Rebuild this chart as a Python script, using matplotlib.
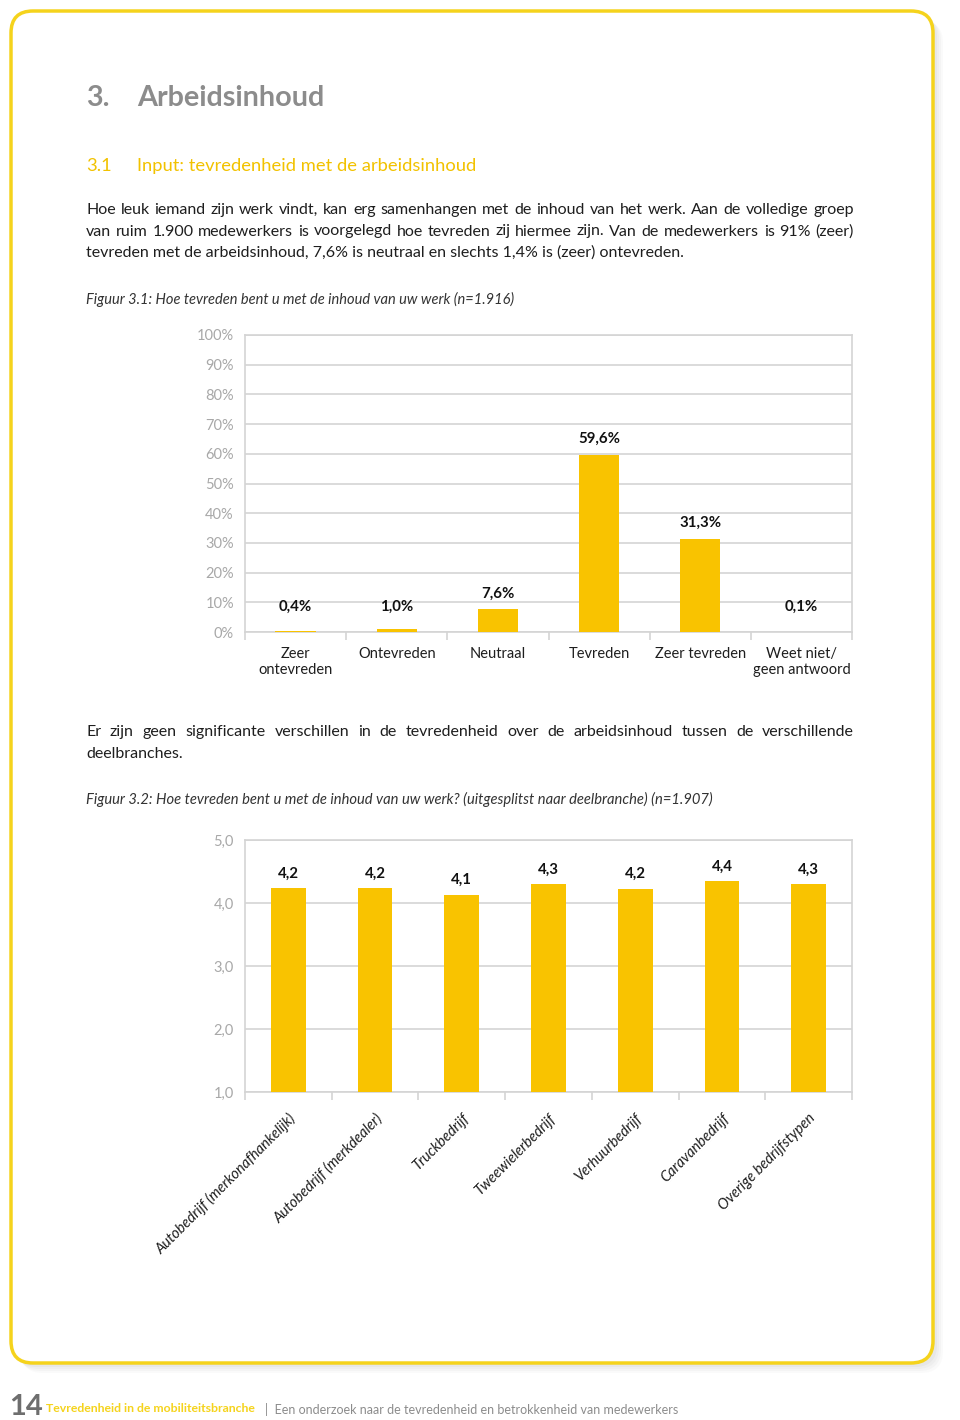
import matplotlib
matplotlib.use("Agg")
import matplotlib.pyplot as plt
from matplotlib.patches import FancyBboxPatch

plt.rcParams['font.family'] = ['Lato', 'DejaVu Sans']

# data figuur 3.1
cat1 = ['Zeer\nontevreden', 'Ontevreden', 'Neutraal', 'Tevreden', 'Zeer tevreden', 'Weet niet/\ngeen antwoord']
val1 = [0.4, 1.0, 7.6, 59.6, 31.3, 0.1]
lab1 = ['0,4%', '1,0%', '7,6%', '59,6%', '31,3%', '0,1%']
ticks1 = [0, 10, 20, 30, 40, 50, 60, 70, 80, 90, 100]

# data figuur 3.2
cat2 = ['Autobedrijf (merkonafhankelijk)', 'Autobedrijf (merkdealer)', 'Truckbedrijf',
        'Tweewielerbedrijf', 'Verhuurbedrijf', 'Caravanbedrijf', 'Overige bedrijfstypen']
val2 = [4.24, 4.24, 4.13, 4.30, 4.23, 4.35, 4.30]
lab2 = ['4,2', '4,2', '4,1', '4,3', '4,2', '4,4', '4,3']
ticks2 = [1, 2, 3, 4, 5]

YEL = '#F9C300'
GRID = '#d4d4d4'
TICK = '#a8a8a8'
TXT = '#1e1e1e'

W, H = 960, 1420
fig = plt.figure(figsize=(W / 100, H / 100), dpi=100)
fig.patch.set_facecolor('white')
renderer = fig.canvas.get_renderer()

# achtergrond in pixels
bg = fig.add_axes([0, 0, 1, 1])
bg.set_xlim(0, W)
bg.set_ylim(H, 0)
bg.axis('off')

for i, a in enumerate([0.06, 0.05, 0.04, 0.03]):
    off = 3 + i * 2
    bg.add_patch(FancyBboxPatch((12 + off, 12 + off), 922, 1352, boxstyle='round,pad=0,rounding_size=22',
                                fc='#777777', ec='none', alpha=a, zorder=1))
bg.add_patch(FancyBboxPatch((11, 11), 922, 1352, boxstyle='round,pad=0,rounding_size=22',
                            fc='white', ec='#F5D31C', lw=2.5, zorder=2))


def line_text(x, y, s, right=None, **kw):
    # als right gegeven is: uitvullen tot die x
    if right is None:
        bg.text(x, y, s, va='center', zorder=3, **kw)
        return
    words = s.split(' ')
    objs = [bg.text(0, y, w, va='center', zorder=3, **kw) for w in words]
    widths = [o.get_window_extent(renderer).width for o in objs]
    gap = (right - x - sum(widths)) / (len(words) - 1)
    pos = x
    for o, w in zip(objs, widths):
        o.set_x(pos)
        pos += w + gap


line_text(86, 98, '3.', fontsize=20.7, fontweight='bold', color='#8c8c8c')
line_text(137, 98, 'Arbeidsinhoud', fontsize=20.7, fontweight='bold', color='#8c8c8c')
line_text(86, 166, '3.1', fontsize=13.2, color='#F2C200')
line_text(137, 166, 'Input: tevredenheid met de arbeidsinhoud', fontsize=13.2, color='#F2C200')

par1 = ['Hoe leuk iemand zijn werk vindt, kan erg samenhangen met de inhoud van het werk. Aan de volledige groep',
        'van ruim 1.900 medewerkers is voorgelegd hoe tevreden zij hiermee zijn. Van de medewerkers is 91% (zeer)',
        'tevreden met de arbeidsinhoud, 7,6% is neutraal en slechts 1,4% is (zeer) ontevreden.']
for i, line in enumerate(par1):
    line_text(86, 210 + i * 21.5, line, right=854 if i < 2 else None, fontsize=11.5, color=TXT)
line_text(86, 299, 'Figuur 3.1: Hoe tevreden bent u met de inhoud van uw werk (n=1.916)', fontsize=10.5,
          style='italic', color='#333333')

par2 = ['Er zijn geen significante verschillen in de tevredenheid over de arbeidsinhoud tussen de verschillende',
        'deelbranches.']
for i, line in enumerate(par2):
    line_text(86, 732 + i * 21.5, line, right=854 if i < 1 else None, fontsize=11.5, color=TXT)
line_text(86, 799, 'Figuur 3.2: Hoe tevreden bent u met de inhoud van uw werk? (uitgesplitst naar deelbranche) (n=1.907)',
          fontsize=10.6, style='italic', color='#333333')

# voettekst
line_text(9, 1407, '14', fontsize=21, fontweight='bold', color='#6e6e6e')
line_text(46, 1409, 'Tevredenheid in de mobiliteitsbranche', fontsize=8.8, fontweight='bold', color='#F5D31C')
line_text(265, 1409, '|  Een onderzoek naar de tevredenheid en betrokkenheid van medewerkers', fontsize=9,
          color='#8c8c8c')


def style_axes(ax):
    for s in ax.spines.values():
        s.set_color(GRID)
        s.set_linewidth(1.2)
    ax.set_axisbelow(True)
    ax.yaxis.grid(True, color=GRID, lw=1.2)
    ax.tick_params(axis='y', length=0, colors=TICK, labelsize=10.5, pad=8)
    ax.tick_params(axis='x', which='major', length=0, colors=TXT, labelsize=10.5)
    ax.tick_params(axis='x', which='minor', length=6, color=GRID, width=1.2)


# figuur 3.1
ax1 = fig.add_axes([245 / W, 1 - 632 / H, 607 / W, 297 / H])
x1 = range(len(cat1))
ax1.bar(x1, val1, width=0.4, color=YEL, zorder=3)
ax1.set_xlim(-0.5, len(cat1) - 0.5)
ax1.set_ylim(0, 100)
ax1.set_yticks(ticks1)
ax1.set_yticklabels([f'{t}%' for t in ticks1])
ax1.set_xticks(list(x1))
ax1.set_xticklabels(cat1, color=TXT)
ax1.set_xticks([i - 0.5 for i in range(len(cat1) + 1)], minor=True)
style_axes(ax1)
ax1.tick_params(axis='x', which='major', pad=11)
for xi, v, t in zip(x1, val1, lab1):
    ax1.text(xi, max(v, 3) + 3, t, ha='center', va='bottom', fontsize=10.8, fontweight='bold', color='#111111')

# figuur 3.2
ax2 = fig.add_axes([245 / W, 1 - 1092 / H, 607 / W, 252 / H])
x2 = range(len(cat2))
ax2.bar(x2, [v - 1 for v in val2], bottom=1, width=0.4, color=YEL, zorder=3)
ax2.set_xlim(-0.5, len(cat2) - 0.5)
ax2.set_ylim(1, 5)
ax2.set_yticks(ticks2)
ax2.set_yticklabels([f'{t},0' for t in ticks2])
ax2.set_xticks(list(x2))
ax2.set_xticklabels(cat2, rotation=45, ha='right', rotation_mode='anchor', style='italic', color=TXT)
ax2.set_xticks([i - 0.5 for i in range(len(cat2) + 1)], minor=True)
style_axes(ax2)
ax2.tick_params(axis='x', which='major', pad=14)
for xi, v, t in zip(x2, val2, lab2):
    ax2.text(xi, v + 0.12, t, ha='center', va='bottom', fontsize=10.8, fontweight='bold', color='#111111')

fig.savefig('out.png', dpi=100)
